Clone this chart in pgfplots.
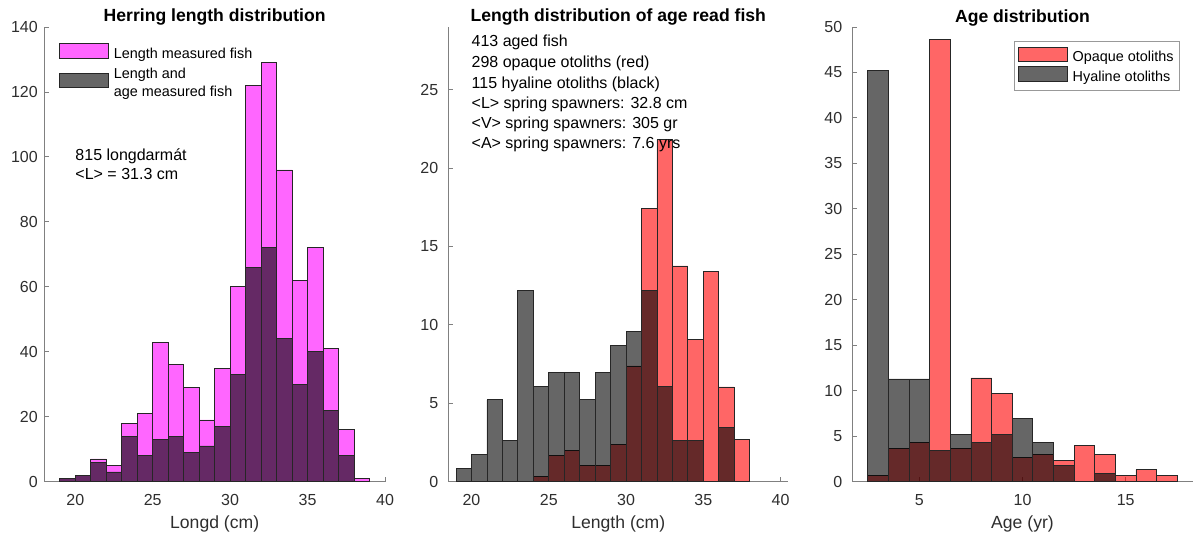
\documentclass[border=0pt]{standalone}
\usepackage{fontspec}
\setmainfont{Liberation Sans}
\usepackage{pgfplots}
\pgfplotsset{compat=1.18}

\definecolor{axisgray}{gray}{0.5}
\definecolor{ticktext}{gray}{0.18}
\definecolor{histmagenta}{rgb}{1,0,1}
\definecolor{histred}{rgb}{1,0,0}

\pgfplotsset{
  hist panel/.style={
    scale only axis,
    width=#1, height=454.7bp,
    anchor=south west,
    axis lines=left,
    axis line style={-, draw=axisgray, line width=0.9bp},
    tick align=inside,
    major tick length=5bp,
    tick style={draw=axisgray, line width=0.9bp},
    ymin=0,
    /pgf/number format/assume math mode=true,
    tick label style={font=\fontsize{16bp}{19bp}\selectfont, text=ticktext},
    xticklabel style={anchor=base, yshift=-23.3bp},
    yticklabel style={anchor=east},
    label style={font=\fontsize{17.6bp}{21bp}\selectfont, text=ticktext},
    xlabel style={at={(axis description cs:0.5,0)}, anchor=base, yshift=-46.5bp},
    every axis title shift=0pt,
    title style={font=\bfseries\fontsize{17.6bp}{21bp}\selectfont,
      at={(axis description cs:0.5,1)}, anchor=base, yshift=5bp},
    legend style={font=\fontsize{14.4bp}{17.7bp}\selectfont},
    legend cell align=left,
  },
  % histogram bars; the legend swatch is a 48.6 x 14.5 patch
  hist/.style={ybar interval, draw=black!85, line width=0.8bp,
    fill=#1, fill opacity=0.6,
    legend image code/.code={%
      \draw[##1] (0bp,-4bp) rectangle (48.6bp,10.5bp);
      \path (51.6bp,0bp);}},
  % swatch centred on a two-line legend entry
  hist low swatch/.style={
    legend image code/.code={%
      \draw[##1] (0bp,-10bp) rectangle (48.6bp,4.5bp);
      \path (51.6bp,0bp);}},
}
\tikzset{note/.style={anchor=base west, inner sep=0pt, font=\fontsize{16bp}{19bp}\selectfont}}

\begin{document}
\begin{tikzpicture}
\useasboundingbox (0,0) rectangle (1194bp,537bp);

% ---------- Length distribution of all measured fish ----------
\begin{axis}[hist panel=340.7bp, at={(44.3bp,55.3bp)},
  xmin=18, xmax=40, ymax=140,
  xtick={20,25,30,35,40}, ytick={0,20,...,140},
  yticklabel style={xshift=-3bp},
  xlabel={Longd (cm)},
  title={Herring length distribution},
  legend style={at={(axis description cs:0,1)}, anchor=north west,
    xshift=12bp, yshift=-14bp, draw=none, fill=none, row sep=2bp}]
\addplot[hist={histmagenta}] coordinates {
  (19,1) (20,2) (21,7) (22,5) (23,18) (24,21) (25,43) (26,36) (27,29) (28,19)
  (29,35) (30,60) (31,122) (32,129) (33,96) (34,62) (35,72) (36,41) (37,16)
  (38,1) (39,0)};
\addlegendentry{Length measured fish}
\addplot[hist={black}, hist low swatch] coordinates {
  (19,1) (20,2) (21,6) (22,3) (23,14) (24,8) (25,13) (26,14) (27,9) (28,11)
  (29,17) (30,33) (31,66) (32,72) (33,44) (34,30) (35,40) (36,22) (37,8)
  (38,0)};
\addlegendentry{\begin{tabular}{@{}l@{}}Length and\\age measured fish\end{tabular}}
\node[note] at (axis cs:20,99.0) {815 longdarmát};
\node[note] at (axis cs:20,92.9) {<L> = 31.3 cm};
\end{axis}

% ---------- Length distribution of aged fish (percent) ----------
\begin{axis}[hist panel=340bp, at={(448.3bp,55.3bp)},
  xmin=18.5, xmax=40.5, ymax=29,
  xtick={20,25,30,35,40}, ytick={0,5,...,25},
  yticklabel style={xshift=-6.5bp},
  xlabel={Length (cm)},
  title={Length distribution of age read fish}]
% opaque otoliths
\addplot[hist={histred}] coordinates {
  (24,0.34) (25,1.68) (26,2.01) (27,1.01) (28,1.01) (29,2.35) (30,7.38)
  (31,17.45) (32,21.81) (33,13.76) (34,9.06) (35,13.42) (36,6.04) (37,2.68)
  (38,0)};
% hyaline otoliths
\addplot[hist={black}] coordinates {
  (19,0.87) (20,1.74) (21,5.22) (22,2.61) (23,12.17) (24,6.09) (25,6.96)
  (26,6.96) (27,5.22) (28,6.96) (29,8.70) (30,9.57) (31,12.17) (32,6.09)
  (33,2.61) (34,2.61) (35,0) (36,3.48) (37,0)};
\node[note] at (axis cs:20,27.76) {413 aged fish};
\node[note] at (axis cs:20,26.42) {298 opaque otoliths (red)};
\node[note] at (axis cs:20,25.10) {115 hyaline otoliths (black)};
\node[note] at (axis cs:20,23.82) {<L> spring spawners: 32.8 cm};
\node[note] at (axis cs:20,22.54) {<V> spring spawners: 305 gr};
\node[note] at (axis cs:20,21.27) {<A> spring spawners: 7.6 yrs};
\end{axis}

% ---------- Age distribution (percent) ----------
\begin{axis}[hist panel=340.4bp, at={(852.3bp,55.3bp)},
  xmin=1.75, xmax=18.25, ymax=50,
  xtick={5,10,15}, ytick={0,5,...,50},
  yticklabel style={xshift=-6.5bp},
  xlabel={Age (yr)},
  title={Age distribution},
  legend style={at={(axis description cs:1,1)}, anchor=north east,
    xshift=-12.7bp, yshift=-13.7bp, draw=black!40, line width=0.8bp,
    fill=white, inner xsep=4bp, inner ysep=5.5bp, row sep=1bp}]
\addplot[hist={histred}] coordinates {
  (2.5,0.67) (3.5,3.69) (4.5,4.36) (5.5,48.66) (6.5,3.69) (7.5,11.41)
  (8.5,9.73) (9.5,2.68) (10.5,3.02) (11.5,2.35) (12.5,4.03) (13.5,3.02)
  (14.5,0.67) (15.5,1.34) (16.5,0.67) (17.5,0)};
\addlegendentry{Opaque otoliths}
\addplot[hist={black}] coordinates {
  (2.5,45.22) (3.5,11.30) (4.5,11.30) (5.5,3.48) (6.5,5.22) (7.5,4.35)
  (8.5,5.22) (9.5,6.96) (10.5,4.35) (11.5,1.74) (12.5,0) (13.5,0.87)
  (14.5,0)};
\addlegendentry{Hyaline otoliths}
\end{axis}
\end{tikzpicture}
\end{document}
